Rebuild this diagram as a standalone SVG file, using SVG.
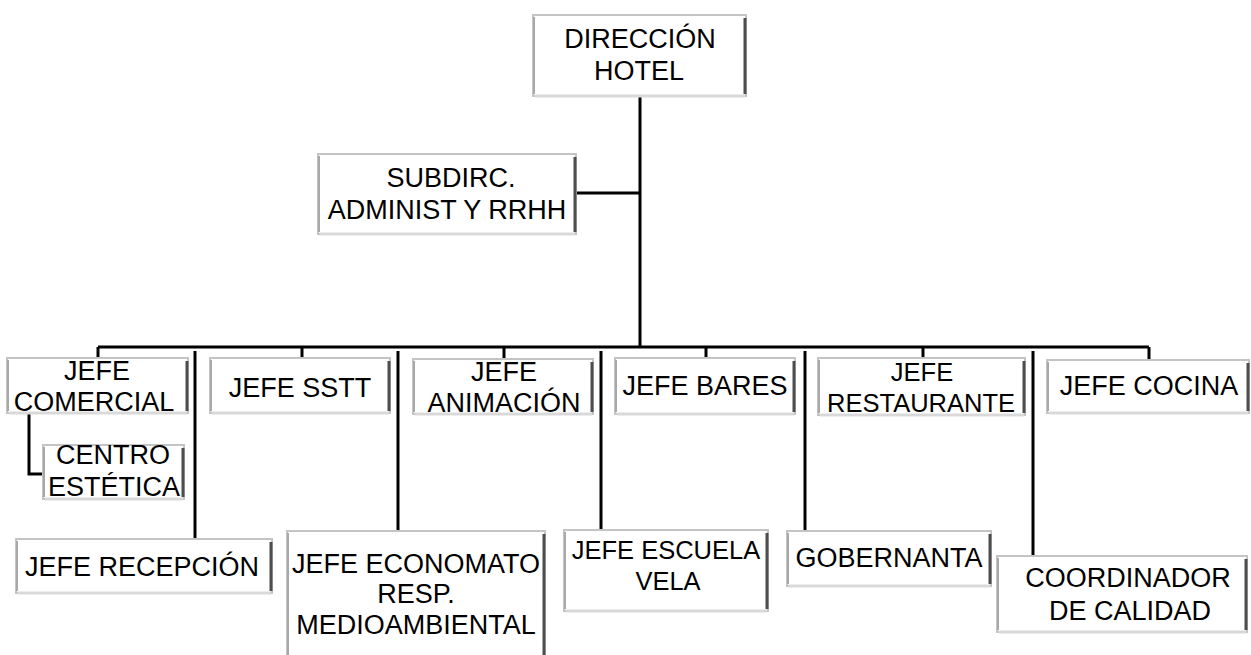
<svg xmlns="http://www.w3.org/2000/svg" width="1251" height="655" viewBox="0 0 1251 655">
  <style>
    .bg { fill: #ffffff; }
    .box { fill: #ffffff; stroke: #c4c4c4; stroke-width: 2; }
    .edge-l { stroke: #a8a8a8; stroke-width: 2; }
    .edge-r { stroke: #4d4d4d; stroke-width: 3; }
    .edge-b { stroke: #d9d9d9; stroke-width: 3; }
    .wire { fill: none; stroke: #000000; stroke-width: 3; }
    .label { font-family: "Liberation Sans", Arial, sans-serif; font-size: 27px; fill: #000000; text-anchor: middle; }
    .label.tight { font-size: 25.5px; }
  </style>

  <rect class="bg" x="0" y="0" width="1251" height="655"/>

  <!-- connectors -->
  <g id="connectors">
    <!-- trunk from the director down to the department bus -->
    <path class="wire" d="M640 96 V347"/>
    <!-- branch to deputy director -->
    <path class="wire" d="M576 193 H640"/>
    <!-- department bus and drops -->
    <path class="wire" d="M98 347 H1149"/>
    <path class="wire" d="M98 347 V358"/>
    <path class="wire" d="M302 347 V358"/>
    <path class="wire" d="M504 347 V359"/>
    <path class="wire" d="M706 347 V358"/>
    <path class="wire" d="M923 347 V358"/>
    <path class="wire" d="M1149 347 V360"/>
    <!-- long drops to the lower row -->
    <path class="wire" d="M195 351 V539"/>
    <path class="wire" d="M398 351 V531"/>
    <path class="wire" d="M601 351 V530"/>
    <path class="wire" d="M805 351 V531"/>
    <path class="wire" d="M1033 351 V556"/>
    <!-- commercial to beauty centre -->
    <path class="wire" d="M29 413 V474 H43"/>
  </g>

  <!-- top level -->
  <g id="node-direccion">
    <rect class="box" x="533" y="15" width="213" height="81"/>
    <line class="edge-l" x1="534" y1="17" x2="534" y2="94"/>
    <line class="edge-r" x1="745" y1="18" x2="745" y2="94"/>
    <line class="edge-b" x1="535" y1="96" x2="745" y2="96"/>
    <text class="label" x="640" y="48">DIRECCIÓN</text>
    <text class="label" x="639" y="80">HOTEL</text>
  </g>

  <g id="node-subdirc">
    <rect class="box" x="318" y="154" width="258" height="80"/>
    <line class="edge-l" x1="319" y1="156" x2="319" y2="232"/>
    <line class="edge-r" x1="575" y1="157" x2="575" y2="232"/>
    <line class="edge-b" x1="320" y1="234" x2="575" y2="234"/>
    <text class="label" x="451" y="187">SUBDIRC.</text>
    <text class="label" x="447" y="219">ADMINIST Y RRHH</text>
  </g>

  <!-- department heads -->
  <g id="node-comercial">
    <rect class="box" x="7" y="358" width="181" height="55"/>
    <line class="edge-l" x1="8" y1="360" x2="8" y2="411"/>
    <line class="edge-r" x1="187" y1="361" x2="187" y2="411"/>
    <line class="edge-b" x1="9" y1="413" x2="187" y2="413"/>
    <text class="label" x="97" y="380">JEFE</text>
    <text class="label" x="94" y="411">COMERCIAL</text>
  </g>

  <g id="node-estetica">
    <rect class="box" x="43" y="445" width="141" height="54"/>
    <line class="edge-l" x1="44" y1="447" x2="44" y2="497"/>
    <line class="edge-r" x1="183" y1="448" x2="183" y2="497"/>
    <line class="edge-b" x1="45" y1="499" x2="183" y2="499"/>
    <text class="label" x="113" y="464">CENTRO</text>
    <text class="label" x="114" y="496">ESTÉTICA</text>
  </g>

  <g id="node-sstt">
    <rect class="box" x="210" y="358" width="180" height="55"/>
    <line class="edge-l" x1="211" y1="360" x2="211" y2="411"/>
    <line class="edge-r" x1="389" y1="361" x2="389" y2="411"/>
    <line class="edge-b" x1="212" y1="413" x2="389" y2="413"/>
    <text class="label" x="300" y="397">JEFE SSTT</text>
  </g>

  <g id="node-animacion">
    <rect class="box" x="413" y="359" width="180" height="55"/>
    <line class="edge-l" x1="414" y1="361" x2="414" y2="412"/>
    <line class="edge-r" x1="592" y1="362" x2="592" y2="412"/>
    <line class="edge-b" x1="415" y1="414" x2="592" y2="414"/>
    <text class="label" x="504" y="381">JEFE</text>
    <text class="label" x="504" y="412">ANIMACIÓN</text>
  </g>

  <g id="node-bares">
    <rect class="box" x="615" y="358" width="180" height="56"/>
    <line class="edge-l" x1="616" y1="360" x2="616" y2="412"/>
    <line class="edge-r" x1="794" y1="361" x2="794" y2="412"/>
    <line class="edge-b" x1="617" y1="414" x2="794" y2="414"/>
    <text class="label" x="705" y="395">JEFE BARES</text>
  </g>

  <g id="node-restaurante">
    <rect class="box" x="818" y="358" width="207" height="57"/>
    <line class="edge-l" x1="819" y1="360" x2="819" y2="413"/>
    <line class="edge-r" x1="1024" y1="361" x2="1024" y2="413"/>
    <line class="edge-b" x1="820" y1="415" x2="1024" y2="415"/>
    <text class="label tight" x="922" y="381">JEFE</text>
    <text class="label tight" x="921" y="412">RESTAURANTE</text>
  </g>

  <g id="node-cocina">
    <rect class="box" x="1047" y="360" width="202" height="53"/>
    <line class="edge-l" x1="1048" y1="362" x2="1048" y2="411"/>
    <line class="edge-r" x1="1248" y1="363" x2="1248" y2="411"/>
    <line class="edge-b" x1="1049" y1="413" x2="1248" y2="413"/>
    <text class="label" x="1149" y="395">JEFE COCINA</text>
  </g>

  <!-- lower row -->
  <g id="node-recepcion">
    <rect class="box" x="16" y="539" width="256" height="54"/>
    <line class="edge-l" x1="17" y1="541" x2="17" y2="591"/>
    <line class="edge-r" x1="271" y1="542" x2="271" y2="591"/>
    <line class="edge-b" x1="18" y1="593" x2="271" y2="593"/>
    <text class="label" x="142" y="576">JEFE RECEPCIÓN</text>
  </g>

  <g id="node-economato">
    <rect class="box" x="287" y="531" width="258" height="130"/>
    <line class="edge-l" x1="288" y1="533" x2="288" y2="660"/>
    <line class="edge-r" x1="544" y1="534" x2="544" y2="660"/>
    <text class="label" x="416" y="573">JEFE ECONOMATO</text>
    <text class="label" x="416" y="603">RESP.</text>
    <text class="label" x="416" y="634">MEDIOAMBIENTAL</text>
  </g>

  <g id="node-escuela-vela">
    <rect class="box" x="564" y="530" width="204" height="81"/>
    <line class="edge-l" x1="565" y1="532" x2="565" y2="609"/>
    <line class="edge-r" x1="767" y1="533" x2="767" y2="609"/>
    <line class="edge-b" x1="566" y1="611" x2="767" y2="611"/>
    <text class="label tight" x="666" y="559">JEFE ESCUELA</text>
    <text class="label tight" x="668" y="590">VELA</text>
  </g>

  <g id="node-gobernanta">
    <rect class="box" x="787" y="531" width="204" height="55"/>
    <line class="edge-l" x1="788" y1="533" x2="788" y2="584"/>
    <line class="edge-r" x1="990" y1="534" x2="990" y2="584"/>
    <line class="edge-b" x1="789" y1="586" x2="990" y2="586"/>
    <text class="label" x="889" y="567">GOBERNANTA</text>
  </g>

  <g id="node-calidad">
    <rect class="box" x="997" y="556" width="250" height="76"/>
    <line class="edge-l" x1="998" y1="558" x2="998" y2="630"/>
    <line class="edge-r" x1="1246" y1="559" x2="1246" y2="630"/>
    <line class="edge-b" x1="999" y1="632" x2="1246" y2="632"/>
    <text class="label" x="1128" y="587">COORDINADOR</text>
    <text class="label" x="1130" y="620">DE CALIDAD</text>
  </g>
</svg>
